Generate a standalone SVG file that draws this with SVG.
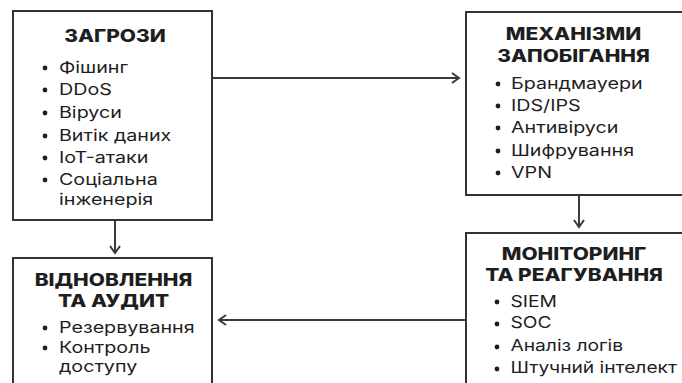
<svg xmlns="http://www.w3.org/2000/svg" width="682" height="383" viewBox="0 0 682 383">
  <style>
    .box { fill: #ffffff; stroke: #333333; stroke-width: 2; }
    .title { font-family: Inter, "Noto Sans", sans-serif; font-weight: 800; font-size: 17px; fill: #1e1e1e; text-anchor: middle; }
    .item { font-family: Inter, "Noto Sans", sans-serif; font-weight: 400; font-size: 16px; fill: #1e1e1e; }
    .dot { fill: #1e1e1e; }
    .edge { fill: none; stroke: #3a3a3a; stroke-width: 2; }
  </style>
  <defs>
    <marker id="chev" viewBox="0 0 12 12" refX="10" refY="6" markerWidth="12" markerHeight="12" markerUnits="userSpaceOnUse" orient="auto">
      <path d="M3,1 L10,6 L3,11" fill="none" stroke="#3a3a3a" stroke-width="2"/>
    </marker>
  </defs>
  <rect width="682" height="383" fill="#ffffff"/>

  <g id="connectors">
    <line class="edge" x1="212" y1="78" x2="459" y2="78" marker-end="url(#chev)"/>
    <line class="edge" x1="115" y1="220" x2="115" y2="253" marker-end="url(#chev)"/>
    <line class="edge" x1="579" y1="195" x2="579" y2="227" marker-end="url(#chev)"/>
    <line class="edge" x1="466" y1="320" x2="219" y2="320" marker-end="url(#chev)"/>
  </g>

  <!-- Text is set in a horizontally widened face: each text block is scaled in x -->
  <g id="threats">
    <rect class="box" x="13" y="11" width="199" height="209"/>
    <g transform="translate(115,0) scale(1.23,1)">
      <text class="title" x="0" y="42.5">ЗАГРОЗИ</text>
    </g>
    <circle class="dot" cx="45" cy="68" r="2.4"/>
    <circle class="dot" cx="45" cy="90" r="2.4"/>
    <circle class="dot" cx="45" cy="113" r="2.4"/>
    <circle class="dot" cx="45" cy="136" r="2.4"/>
    <circle class="dot" cx="45" cy="158" r="2.4"/>
    <circle class="dot" cx="45" cy="180" r="2.4"/>
    <g transform="translate(59,0) scale(1.23,1)">
      <text class="item" x="0" y="73">Фішинг</text>
      <text class="item" x="0" y="95">DDoS</text>
      <text class="item" x="0" y="118">Віруси</text>
      <text class="item" x="0" y="141">Витік даних</text>
      <text class="item" x="0" y="163">IoT-атаки</text>
      <text class="item" x="0" y="185">Соціальна</text>
      <text class="item" x="0" y="205">інженерія</text>
    </g>
  </g>

  <g id="prevention">
    <rect class="box" x="466" y="12" width="230" height="183"/>
    <g transform="translate(573.5,0) scale(1.23,1)">
      <text class="title" x="0" y="40">МЕХАНІЗМИ</text>
      <text class="title" x="0" y="62">ЗАПОБІГАННЯ</text>
    </g>
    <circle class="dot" cx="498" cy="84" r="2.4"/>
    <circle class="dot" cx="498" cy="106" r="2.4"/>
    <circle class="dot" cx="498" cy="128" r="2.4"/>
    <circle class="dot" cx="498" cy="151" r="2.4"/>
    <circle class="dot" cx="498" cy="173" r="2.4"/>
    <g transform="translate(511,0) scale(1.23,1)">
      <text class="item" x="0" y="89">Брандмауери</text>
      <text class="item" x="0" y="111">IDS/IPS</text>
      <text class="item" x="0" y="133">Антивіруси</text>
      <text class="item" x="0" y="156">Шифрування</text>
      <text class="item" x="0" y="178">VPN</text>
    </g>
  </g>

  <g id="recovery">
    <rect class="box" x="13" y="258" width="199" height="140"/>
    <g transform="translate(113.5,0) scale(1.23,1)">
      <text class="title" x="0" y="286">ВІДНОВЛЕННЯ</text>
      <text class="title" x="0" y="307">ТА АУДИТ</text>
    </g>
    <circle class="dot" cx="45" cy="328" r="2.4"/>
    <circle class="dot" cx="45" cy="348" r="2.4"/>
    <g transform="translate(59,0) scale(1.23,1)">
      <text class="item" x="0" y="333">Резервування</text>
      <text class="item" x="0" y="353">Контроль</text>
      <text class="item" x="0" y="372">доступу</text>
    </g>
  </g>

  <g id="monitoring">
    <rect class="box" x="466" y="233" width="230" height="170"/>
    <g transform="translate(574,0) scale(1.23,1)">
      <text class="title" x="0" y="260">МОНІТОРИНГ</text>
      <text class="title" x="0" y="281">ТА РЕАГУВАННЯ</text>
    </g>
    <circle class="dot" cx="497" cy="302" r="2.4"/>
    <circle class="dot" cx="497" cy="324" r="2.4"/>
    <circle class="dot" cx="497" cy="347" r="2.4"/>
    <circle class="dot" cx="497" cy="369" r="2.4"/>
    <g transform="translate(510.5,0) scale(1.2,1)">
      <text class="item" x="0" y="307">SIEM</text>
      <text class="item" x="0" y="328.5">SOC</text>
      <text class="item" x="0" y="351.5">Аналіз логів</text>
      <text class="item" x="0" y="373.5">Штучний інтелект</text>
    </g>
  </g>
</svg>
